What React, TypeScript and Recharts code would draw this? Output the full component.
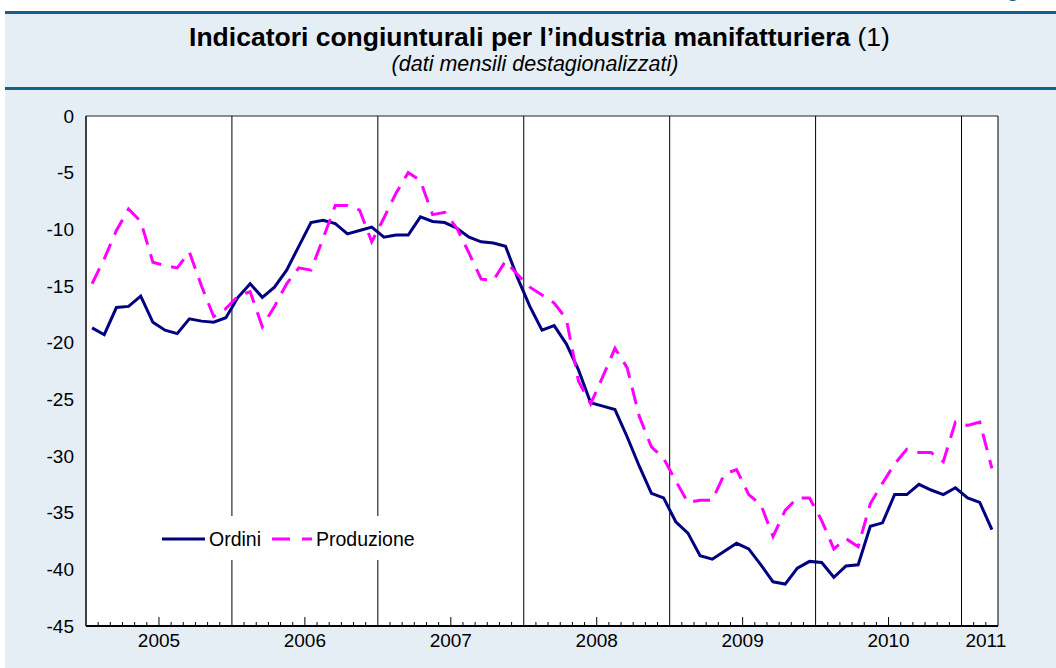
import { LineChart, Line, XAxis, YAxis, CartesianGrid, ReferenceLine } from "recharts";

const years = ["2005", "2006", "2007", "2008", "2009", "2010", "2011"];

// monthly, Jan 2005 - Mar 2011
const ordini = [
  -18.7, -19.3, -16.9, -16.8, -15.9, -18.2, -18.9, -19.2, -17.9, -18.1, -18.2, -17.8,
  -16.0, -14.8, -16.0, -15.1, -13.6, -11.5, -9.4, -9.2, -9.5, -10.4, -10.1, -9.8,
  -10.7, -10.5, -10.5, -8.9, -9.3, -9.4, -9.9, -10.7, -11.1, -11.2, -11.5, -14.3,
  -16.8, -18.9, -18.5, -20.1, -22.4, -25.3, -25.6, -25.9, -28.3, -30.9, -33.3, -33.7,
  -35.8, -36.8, -38.8, -39.1, -38.4, -37.7, -38.2, -39.6, -41.1, -41.3, -39.9, -39.3,
  -39.4, -40.7, -39.7, -39.6, -36.2, -35.9, -33.4, -33.4, -32.5, -33.0, -33.4, -32.8,
  -33.7, -34.1, -36.5,
];

const produzione = [
  -14.8, -12.6, -10.1, -8.2, -9.3, -12.9, -13.2, -13.4, -12.0, -15.0, -17.7, -17.0,
  -15.9, -15.5, -18.6, -16.8, -14.8, -13.4, -13.6, -10.8, -7.9, -7.9, -8.3, -11.1,
  -9.0, -6.8, -5.0, -5.7, -8.7, -8.5, -9.9, -12.1, -14.4, -14.5, -12.8, -14.0,
  -15.1, -15.8, -16.5, -17.9, -23.4, -25.4, -23.0, -20.5, -22.2, -26.5, -29.2, -30.2,
  -32.2, -34.1, -33.9, -33.9, -31.6, -31.2, -33.4, -34.3, -37.1, -34.8, -33.7, -33.7,
  -35.7, -38.2, -37.3, -38.0, -34.2, -32.4, -30.7, -29.4, -29.7, -29.7, -30.5, -27.0,
  -27.3, -27.0, -31.1,
];

const yTicks = [0, -5, -10, -15, -20, -25, -30, -35, -40, -45];

const data = ordini.map((v, i) => ({ x: i + 0.5, ordini: v, produzione: produzione[i] }));
const monthTicks = Array.from({ length: ordini.length + 1 }, (_, i) => i);
const yearBounds = monthTicks.filter((m) => m > 0 && m % 12 === 0);

const FONT = "'Liberation Sans', Arial, sans-serif";
const DARK = "#14608e";

function MonthTick(props: any) {
  const { x, y, payload } = props;
  const v = payload.value as number;
  const mid = v % 12 === 6;
  const label = mid ? years[Math.floor(v / 12)] : v === monthTicks.length - 2 ? years[years.length - 1] : null;
  const len = v % 12 === 0 || v === monthTicks.length - 1 ? 0 : mid ? 9 : 4;
  return (
    <g>
      {len > 0 && <line x1={x} x2={x} y1={y} y2={y - len} stroke="#000" strokeWidth={1} />}
      {label && (
        <text x={x} y={y + 21} textAnchor="middle" fontSize={19} fontFamily={FONT} fill="#000">
          {label}
        </text>
      )}
    </g>
  );
}

export default function App() {
  return (
    <div style={{ position: "relative", width: 1056, height: 668, overflow: "hidden", background: "#fff", fontFamily: FONT }}>
      <style>{"body{margin:0}"}</style>
      <div style={{ position: "absolute", right: 6, top: -20, fontSize: 20, fontWeight: "bold", color: DARK, lineHeight: "20px" }}>
        Figura
      </div>
      <div style={{ position: "absolute", left: 5, top: 11, width: 1051, height: 657, background: "#e5eef5" }} />
      <div style={{ position: "absolute", left: 5, top: 11, width: 1051, height: 3, background: DARK }} />
      <div style={{ position: "absolute", left: 5, top: 87, width: 1051, height: 3, background: DARK }} />
      <div style={{ position: "absolute", left: 0, top: 24, width: 1079, textAlign: "center", fontSize: 26.5, lineHeight: "26px", color: "#000", whiteSpace: "nowrap" }}>
        <b>Indicatori congiunturali per l’industria manifatturiera</b> (1)
      </div>
      <div style={{ position: "absolute", left: 0, top: 53, width: 1070, textAlign: "center", fontSize: 21.5, lineHeight: "22px", fontStyle: "italic", color: "#000", whiteSpace: "nowrap" }}>
        (dati mensili destagionalizzati)
      </div>
      <div style={{ position: "absolute", left: 0, top: 100 }}>
        <LineChart width={1056} height={568} data={data} margin={{ top: 16, right: 0, bottom: 0, left: 0 }}>
          <CartesianGrid fill="#fff" stroke="#222" strokeOpacity={1} vertical={false} />
          <XAxis
            dataKey="x"
            type="number"
            domain={[0, monthTicks.length - 1]}
            ticks={monthTicks}
            interval={0}
            height={42}
            tickSize={0}
            tickMargin={0}
            tickLine={false}
            axisLine={{ stroke: "#000", strokeWidth: 2 }}
            tick={<MonthTick />}
          />
          <YAxis
            yAxisId="left"
            domain={[-45, 0]}
            ticks={yTicks}
            interval={0}
            width={86}
            tickSize={0}
            tickMargin={12}
            tickLine={false}
            axisLine={{ stroke: "#000", strokeWidth: 1.5 }}
            tick={{ fontSize: 19, fill: "#000", fontFamily: FONT }}
          />
          <YAxis
            yAxisId="right"
            orientation="right"
            domain={[-45, 0]}
            ticks={yTicks}
            interval={0}
            width={58}
            tickSize={0}
            tickMargin={15}
            tickLine={false}
            axisLine={{ stroke: "#000", strokeWidth: 1 }}
            tick={{ fontSize: 19, fill: "#000", fontFamily: FONT, textAnchor: "start" }}
          />
          {yearBounds.map((m) => (
            <ReferenceLine key={m} yAxisId="left" x={m} stroke="#000" strokeWidth={1} zIndex={-50} />
          ))}
          <Line
            yAxisId="left"
            type="linear"
            dataKey="ordini"
            stroke="#000080"
            strokeWidth={3}
            dot={false}
            activeDot={false}
            isAnimationActive={false}
          />
          <Line
            yAxisId="left"
            type="linear"
            dataKey="produzione"
            stroke="#ff00ff"
            strokeWidth={3}
            strokeDasharray="17 10"
            dot={false}
            activeDot={false}
            isAnimationActive={false}
          />
        </LineChart>
      </div>
      <div style={{ position: "absolute", left: 150, top: 516, width: 275, height: 44, background: "#fff" }}>
        <svg width={275} height={44}>
          <line x1={12} x2={55} y1={23} y2={23} stroke="#000080" strokeWidth={3} />
          <text x={59} y={30} fontSize={19.5} fontFamily={FONT} fill="#000">Ordini</text>
          <line x1={122} x2={162} y1={23} y2={23} stroke="#ff00ff" strokeWidth={3} strokeDasharray="18 12" />
          <text x={166} y={30} fontSize={19.5} fontFamily={FONT} fill="#000">Produzione</text>
        </svg>
      </div>
    </div>
  );
}
